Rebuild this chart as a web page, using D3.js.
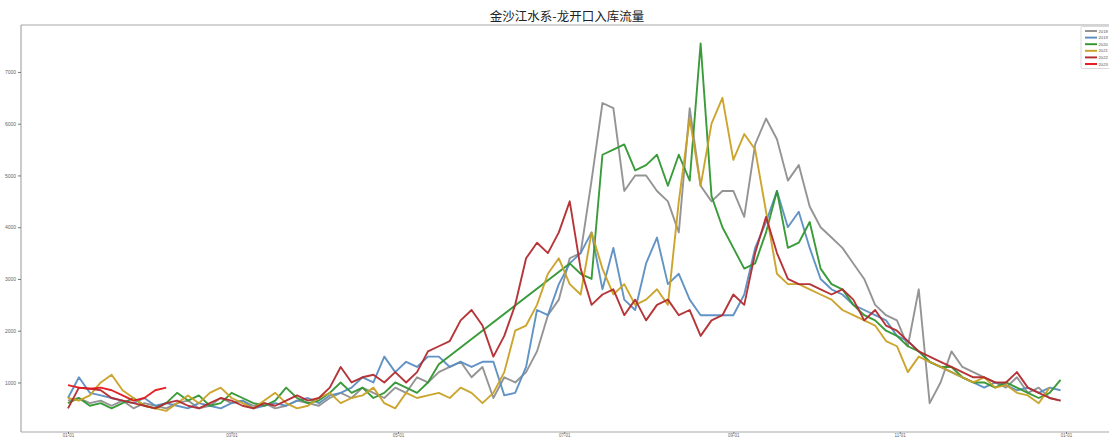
<!DOCTYPE html>
<html><head><meta charset="utf-8">
<script src="https://cdn.jsdelivr.net/npm/d3@7"></script>
<style>body{margin:0;background:#fff}svg{display:block}</style>
</head><body><div id="chart"></div>
<script>
const title = "金沙江水系-龙开口入库流量";
const years = ["2018","2019","2020","2021","2022","2023"];
const colors = ["#8e8e8e","#5a8dc2","#2f962f","#c9a023","#b22a2d","#e3161c"];
const yTicks = [1000,2000,3000,4000,5000,6000,7000];
const xTickDates = ["2020-01-01","2020-03-01","2020-05-01","2020-07-01","2020-09-01","2020-11-01","2021-01-01"];
// day-of-year of each sample
const days = [0,4,8,12,16,20,24,28,32,36,40,44,48,52,56,60,64,68,72,76,80,84,88,92,96,100,104,108,112,116,120,124,128,132,136,140,144,148,152,156,160,164,168,172,176,180,184,188,192,196,200,204,208,212,216,220,224,228,232,236,240,244,248,252,256,260,264,268,272,276,280,284,288,292,296,300,304,308,312,316,320,324,328,332,336,340,344,348,352,356,360,364];
const v2018 = [650,700,600,650,550,650,500,600,550,500,600,650,500,550,700,600,650,550,600,500,550,650,600,550,700,800,700,900,800,700,900,800,1100,1000,1200,1300,1400,1100,1300,700,1100,1000,1200,1600,2300,2600,3400,3500,4900,6400,6300,4700,5000,5000,4700,4500,3900,6300,4800,4500,4700,4700,4200,5600,6100,5700,4900,5200,4400,4000,3800,3600,3300,3000,2500,2300,2200,1700,2800,600,1000,1600,1300,1200,1100,1000,900,1100,800,900,700,650];
const v2019 = [700,1100,800,750,700,650,600,700,550,600,550,500,600,550,500,600,650,500,550,600,550,650,700,600,750,800,900,1100,1000,1500,1200,1400,1300,1500,1500,1300,1400,1300,1400,1400,750,800,1300,2400,2300,2900,3300,3500,3900,2800,3600,2600,2400,3300,3800,2900,3100,2600,2300,2300,2300,2300,2700,3600,4100,4700,4000,4300,3600,3000,2800,2700,2500,2400,2300,2200,1900,1800,1600,1400,1300,1200,1100,1000,900,1000,950,850,900,800,900,850];
const v2020 = [600,700,550,600,500,600,700,550,500,600,800,650,750,550,600,800,700,600,550,650,900,700,600,650,800,1000,800,900,700,800,1000,900,800,1000,1350,null,null,null,null,null,null,null,null,null,null,null,3300,3100,3000,5400,5500,5600,5100,5200,5400,4800,5400,4900,7550,4600,4000,3600,3200,3300,3900,4700,3600,3700,4100,3200,2900,2800,2500,2300,2200,2000,1900,1700,1600,1400,1300,1300,1100,1000,1000,900,1000,900,800,700,800,1050];
const v2021 = [700,650,750,1000,1150,850,700,550,500,450,600,750,600,800,900,700,600,500,650,800,600,500,550,700,800,600,700,750,900,600,500,800,700,750,800,700,900,800,600,800,1200,2000,2100,2500,3100,3400,2900,2700,3900,3200,2700,2900,2500,2600,2800,2500,4500,6100,4800,6000,6500,5300,5800,5500,4300,3100,2900,2900,2800,2700,2600,2400,2300,2200,2100,1800,1700,1200,1500,1400,1300,1200,1100,1000,1100,900,950,800,750,600,900];
const v2022 = [500,900,880,850,700,650,600,550,500,600,650,550,500,600,700,650,550,500,600,550,650,750,650,700,900,1300,1000,1100,1150,1000,1200,1000,1200,1600,1700,1800,2200,2400,2100,1500,1900,2500,3400,3700,3500,3900,4500,3200,2500,2700,2800,2300,2600,2200,2500,2600,2300,2400,1900,2200,2300,2700,2500,3500,4200,3500,3000,2900,2900,2800,2700,2800,2600,2200,2400,2100,2000,1800,1600,1500,1400,1300,1200,1100,1100,1000,1000,1200,900,800,700,650];
const v2023 = [950,900,880,900,850,750,650,700,850,900];
const seriesValues = [v2018, v2019, v2020, v2021, v2022, v2023];

const W = 1109, H = 438;
const svg = d3.select("#chart").append("svg").attr("width", W).attr("height", H)
  .style("font-family", "'Liberation Sans', Arial, sans-serif");

const parse = d3.timeParse("%Y-%m-%d");
const base = parse("2020-01-01");
const x = d3.scaleTime().domain([base, parse("2021-01-01")]).range([68, 1066]);
const y = d3.scaleLinear().domain([43, 7907]).range([432, 25]);
const dateOf = d => d3.timeDay.offset(base, d);

const pLeft = 21, pRight = 1113, pTop = 25, pBottom = 432;

// lines
const line = d3.line().x(d => x(dateOf(d[0]))).y(d => y(d[1]));
seriesValues.forEach((vals, i) => {
  const pts = vals.map((v, j) => [days[j], v]).filter(p => p[1] !== null);
  svg.append("path").datum(pts).attr("d", line)
    .attr("fill", "none").attr("stroke", colors[i]).attr("stroke-width", 1.9)
    .attr("stroke-linejoin", "round").attr("stroke-opacity", 0.95);
});

// spines
const spine = "#a8a8a8";
svg.append("line").attr("x1", pLeft).attr("x2", pRight).attr("y1", pTop).attr("y2", pTop).attr("stroke", spine).attr("stroke-width", 1.2);
svg.append("line").attr("x1", pLeft).attr("x2", pRight).attr("y1", pBottom).attr("y2", pBottom).attr("stroke", spine).attr("stroke-width", 1.2);
svg.append("line").attr("x1", pLeft).attr("x2", pLeft).attr("y1", pTop).attr("y2", pBottom).attr("stroke", spine).attr("stroke-width", 1.2);

// axes
const xAxis = d3.axisBottom(x).tickValues(xTickDates.map(parse)).tickFormat(d3.timeFormat("%m-%d")).tickSize(2).tickPadding(0);
const gx = svg.append("g").attr("transform", `translate(0,${pBottom})`).call(xAxis);
gx.select(".domain").remove();
gx.selectAll("line").attr("stroke", "#777");
gx.selectAll("text").attr("fill", "#666").style("font-size", "4.5px").attr("dy", null).attr("y", 5.3);

const yAxis = d3.axisLeft(y).tickValues(yTicks).tickFormat(d3.format("d")).tickSize(3).tickPadding(2);
const gy = svg.append("g").attr("transform", `translate(${pLeft},0)`).call(yAxis);
gy.select(".domain").remove();
gy.selectAll("line").attr("stroke", "#777");
gy.selectAll("text").attr("fill", "#666").style("font-size", "5px");

// title
svg.append("text").attr("x", 567).attr("y", 21).attr("text-anchor", "middle")
  .style("font-family", "'Noto Sans CJK SC', sans-serif").style("font-size", "12.5px").attr("fill", "#222")
  .text(title);

// legend
const lg = svg.append("g");
lg.append("rect").attr("x", 1081).attr("y", 26.5).attr("width", 40).attr("height", 42)
  .attr("fill", "#fff").attr("stroke", "#d0d0d0").attr("stroke-width", 0.8).attr("rx", 1);
years.forEach((yr, i) => {
  const yy = 31 + i * 6.6;
  lg.append("line").attr("x1", 1085).attr("x2", 1097).attr("y1", yy).attr("y2", yy)
    .attr("stroke", colors[i]).attr("stroke-width", 1.9);
  lg.append("text").attr("x", 1098.5).attr("y", yy + 1.6).style("font-size", "4.2px").attr("fill", "#555").text(yr);
});
</script></body></html>
